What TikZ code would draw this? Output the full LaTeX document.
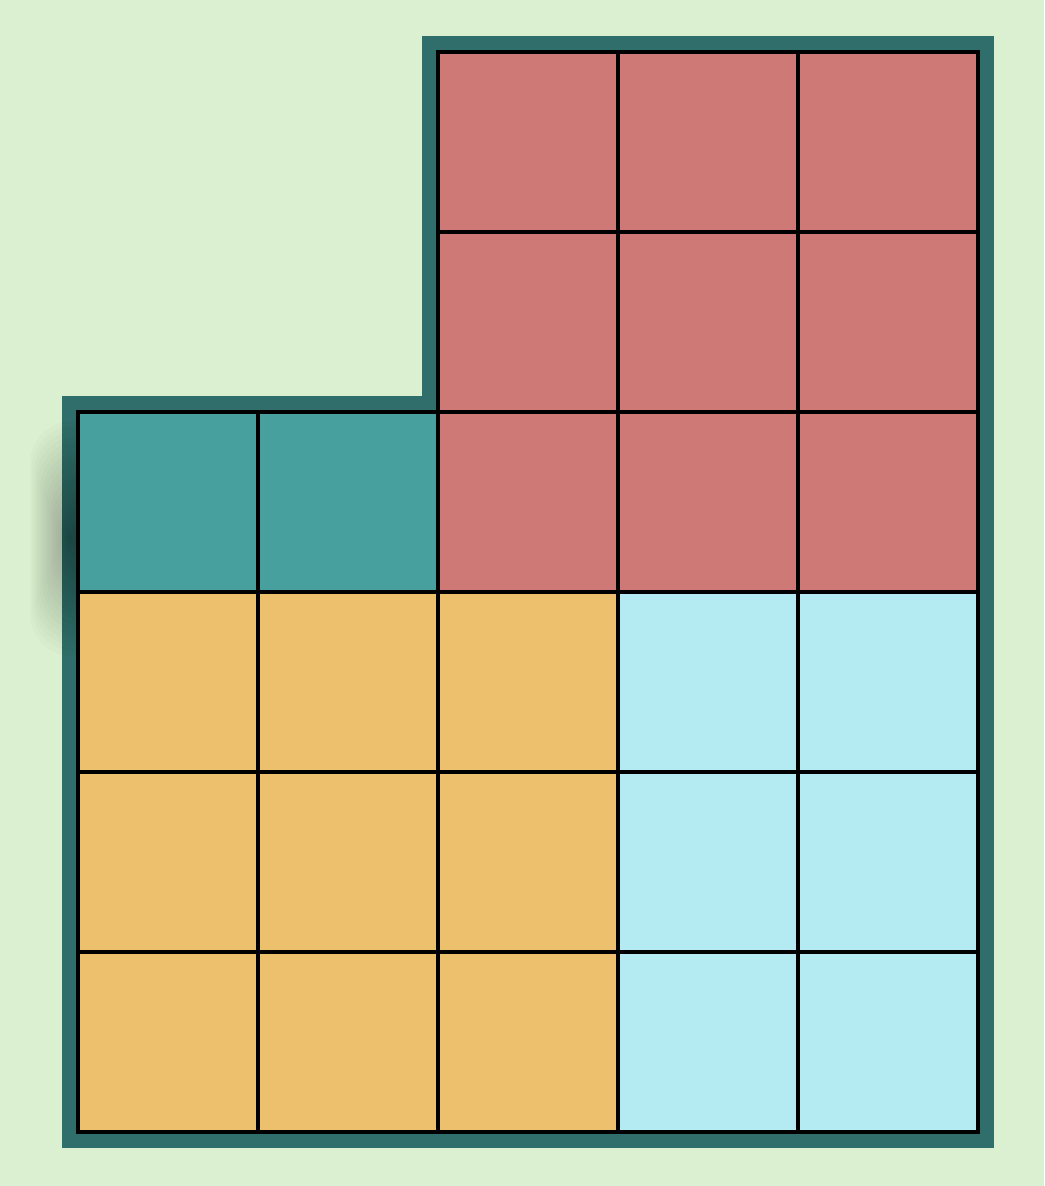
\documentclass[tikz,border=0pt]{standalone}
\usetikzlibrary{positioning}
\definecolor{fondo}{RGB}{219,240,208}
\definecolor{borde}{RGB}{47,110,106}
\definecolor{rojo}{RGB}{207,121,118}
\definecolor{verdeazul}{RGB}{72,160,158}
\definecolor{amarillo}{RGB}{236,192,108}
\definecolor{celeste}{RGB}{180,234,242}
\begin{document}
\begin{tikzpicture}
    % Fondo y caja.
    \fill[fondo] (0,0) rectangle (10.44,11.86);
    \useasboundingbox (0,0) rectangle (10.44,11.86);

    \begin{scope}[shift={(.78,.54)}, x=1.8cm, y=1.8cm]
        % Borde grueso de la figura.
        \draw[borde,line width=.32cm,miter limit=10]
            (0,0) -- (5,0) -- (5,6) -- (2,6) -- (2,4) -- (0,4) -- cycle;
    \end{scope}

    % Sombra difusa a la izquierda (sobre el borde).
    \begin{scope}
        \clip (0,0) rectangle (.77,11.86);
        \foreach \i in {0,...,19} {
            \fill[black,opacity=.014,rounded corners=12pt]
                ({.30+.02*\i},{5.3+.05*\i}) rectangle (1.2,{7.65-.05*\i});
        }
    \end{scope}

    \begin{scope}[shift={(.78,.54)}, x=1.8cm, y=1.8cm]
        % Regiones de color.
        \fill[amarillo] (0,0) rectangle (3,3);
        \fill[celeste] (3,0) rectangle (5,3);
        \fill[verdeazul] (0,3) rectangle (2,4);
        \fill[rojo] (2,3) rectangle (5,6);

        % Cuadricula.
        \begin{scope}[line width=.04cm, black]
            \foreach \x in {0,1} \draw (\x,0) -- (\x,4);
            \foreach \x in {2,...,5} \draw (\x,0) -- (\x,6);
            \foreach \y in {0,...,3} \draw (0,\y) -- (5,\y);
            \draw (0,4) -- (5,4);
            \foreach \y in {5,6} \draw (2,\y) -- (5,\y);
            \draw[line join=miter]
                (0,0) -- (5,0) -- (5,6) -- (2,6) -- (2,4) -- (0,4) -- cycle;
        \end{scope}
    \end{scope}
\end{tikzpicture}
\end{document}
